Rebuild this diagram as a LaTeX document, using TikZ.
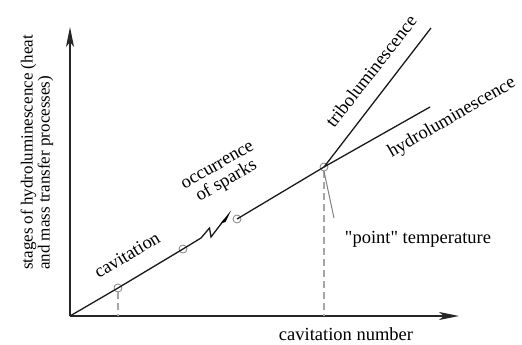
\documentclass[tikz,border=0pt]{standalone}
\usepackage{fontspec}
\setmainfont{Liberation Serif}
\newfontfamily\plainserif{Liberation Serif}
\usetikzlibrary{arrows.meta}
\begin{document}
\begin{tikzpicture}[x=1pt,y=-1pt,
  axis/.style={line width=1.4pt, draw=black!85, -{Stealth[length=20pt,width=8pt,inset=5pt]}},
  curve/.style={line width=1.3pt, draw=black!90},
  marker/.style={circle, draw=gray, line width=0.8pt, minimum size=8pt, inner sep=0pt},
  guide/.style={draw=gray!70, line width=1.3pt, dash pattern=on 7pt off 4pt},
  pointer/.style={draw=gray, line width=1pt},
  lbl/.style={font=\fontsize{18.5}{18}\selectfont, inner sep=0pt},
  ylbl/.style={font=\fontsize{17}{17}\selectfont, inner sep=0pt},
]
\useasboundingbox (0,0) rectangle (522,345);
\coordinate (O) at (70,316);
\coordinate (Ytip) at (70,27);
\coordinate (Xtip) at (459,316);
\coordinate (H) at (430,107);
\coordinate (T) at (431,28);
\coordinate (ptr) at (334,218);
\coordinate (s1) at (201,238);
\coordinate (s2) at (209.5,228);
\coordinate (s3) at (211,237);
\coordinate (s4) at (224,220);

\draw[axis] (O) -- (Ytip);
\draw[axis] (O) -- (Xtip);

\node[marker] (c1) at (118,288) {};
\node[marker] (c2) at (183,249) {};
\node[marker] (c3) at (237,219) {};
\node[marker] (c4) at (324,167) {};

\draw[curve, line join=miter] (O) -- (c1.center) -- (c2.center) -- (s1) -- (s2) -- (s3) -- (s4);
\fill[black] (220.5,223.5) -- (231,210.5) -- (225.5,222) -- cycle;
\draw[curve] (c3.center) -- (c4.center) -- (H);
\draw[curve] (c4.center) -- (T);

\draw[guide] (c1.south) -- (c1.south |- O);
\draw[guide] (c4.south) -- (c4.south |- O);
\draw[pointer] (c4.south) -- (ptr);

\node[lbl, rotate=31] (lcav) at (127,255) {cavitation};
\node[lbl, rotate=30, align=center] (lspark) at (223,175) {occurrence\\of sparks};
\node[lbl, rotate=52] (ltri) at (371,71) {triboluminescence};
\node[lbl, rotate=30] (lhyd) at (452,118) {hydroluminescence};
\node[lbl] (lpt) at (418,239) {\plainserif "point" temperature};
\node[lbl] (lxn) at (346,334) {cavitation number};
\node[ylbl, rotate=90, anchor=west, align=left] (ly) at (37,270) {stages of hydroluminescence (heat\\and mass transfer processes)};
\end{tikzpicture}
\end{document}
